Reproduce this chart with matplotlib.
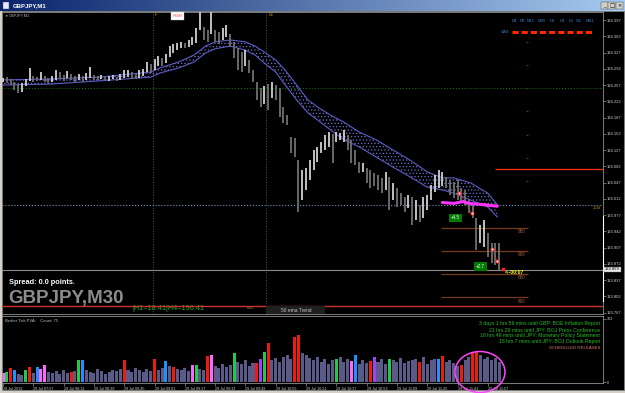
import numpy as np
import matplotlib
matplotlib.use('Agg')
import matplotlib.pyplot as plt
from matplotlib import font_manager
from matplotlib.patches import Rectangle, Ellipse
from matplotlib.lines import Line2D
from matplotlib.colors import LinearSegmentedColormap

installed = {f.name for f in font_manager.fontManager.ttflist}
if 'Liberation Sans Narrow' in installed:
    NARROW, k = 'Liberation Sans Narrow', 1.0
else:
    NARROW, k = 'Liberation Sans', 0.82
plt.rcParams['font.family'] = [NARROW, 'DejaVu Sans']
plt.rcParams['hatch.linewidth'] = 0.5

# ---- data (minutes after 07:41 on 29 Jul 2019) ----
bar_min = list(range(0, 264, 2))
bar_high = [134.272, 134.274, 134.270, 134.264, 134.259, 134.261, 134.270, 134.294, 134.276, 134.274,
            134.285, 134.276, 134.272, 134.276, 134.289, 134.285, 134.279, 134.287, 134.281, 134.276,
            134.281, 134.276, 134.283, 134.296, 134.279, 134.276, 134.279, 134.274, 134.276, 134.279,
            134.274, 134.281, 134.289, 134.289, 134.285, 134.281, 134.289, 134.292, 134.307, 134.302,
            134.313, 134.319, 134.315, 134.324, 134.341, 134.345, 134.348, 134.350, 134.348, 134.354,
            134.360, 134.380, 134.419, 134.382, 134.375, 134.414, 134.375, 134.371, 134.380, 134.386,
            134.367, 134.350, 134.337, 134.328, 134.332, 134.311, 134.289, 134.264, 134.251, 134.255,
            134.259, 134.264, 134.257, 134.251, 134.210, 134.192, 134.145, 134.143, 134.095, 134.074,
            134.078, 134.095, 134.117, 134.124, 134.134, 134.149, 134.156, 134.151, 134.156, 134.154,
            134.160, 134.149, 134.139, 134.117, 134.091, 134.089, 134.078, 134.074, 134.067, 134.063,
            134.057, 134.070, 134.059, 134.046, 134.035, 134.024, 134.016, 134.020, 134.016, 134.009,
            133.999, 134.016, 134.020, 134.042, 134.063, 134.074, 134.070, 134.059, 134.052, 134.048,
            134.052, 134.035, 134.031, 134.009, 133.999, 133.971, 133.956, 133.966, 133.938, 133.917,
            133.917, 133.917]
bar_low = [134.264, 134.261, 134.257, 134.246, 134.240, 134.242, 134.255, 134.266, 134.264, 134.266,
           134.268, 134.264, 134.261, 134.264, 134.268, 134.270, 134.266, 134.272, 134.268, 134.264,
           134.268, 134.264, 134.268, 134.272, 134.268, 134.268, 134.270, 134.268, 134.266, 134.270,
           134.266, 134.268, 134.272, 134.274, 134.270, 134.270, 134.272, 134.276, 134.285, 134.283,
           134.289, 134.298, 134.298, 134.304, 134.317, 134.326, 134.332, 134.337, 134.337, 134.339,
           134.343, 134.348, 134.375, 134.354, 134.350, 134.367, 134.350, 134.345, 134.354, 134.360,
           134.339, 134.315, 134.289, 134.285, 134.298, 134.283, 134.264, 134.225, 134.210, 134.216,
           134.203, 134.229, 134.225, 134.188, 134.175, 134.171, 134.111, 134.102, 133.984, 134.009,
           134.031, 134.052, 134.074, 134.091, 134.111, 134.117, 134.124, 134.089, 134.134, 134.139,
           134.134, 134.117, 134.089, 134.085, 134.067, 134.070, 134.046, 134.035, 134.040, 134.031,
           134.024, 134.031, 133.988, 134.009, 133.994, 133.999, 133.984, 133.992, 133.956, 133.966,
           133.962, 133.971, 133.988, 134.009, 134.027, 134.035, 134.040, 134.035, 134.020, 134.014,
           134.009, 134.003, 133.999, 133.981, 133.971, 133.902, 133.917, 133.908, 133.887, 133.874,
           133.869, 133.859]

ema_min = [0, 25, 51, 78, 83, 93, 101, 107, 112, 120, 128, 133, 138, 144, 149,
           155, 161, 166, 173, 180, 188, 197, 206, 215, 224, 232, 238, 247, 256, 261]
ema_upper = [134.268, 134.270, 134.274, 134.285, 134.294, 134.307, 134.322, 134.341, 134.350, 134.354,
             134.350, 134.341, 134.328, 134.311, 134.289, 134.257, 134.225, 134.210, 134.192, 134.177,
             134.156, 134.139, 134.117, 134.095, 134.070, 134.057, 134.057, 134.046, 134.024, 133.999]
ema_lower = [134.257, 134.259, 134.266, 134.274, 134.283, 134.294, 134.307, 134.326, 134.335, 134.341,
             134.332, 134.322, 134.304, 134.285, 134.257, 134.225, 134.197, 134.182, 134.160, 134.139,
             134.124, 134.102, 134.080, 134.059, 134.037, 134.031, 134.024, 134.009, 133.994, 133.973]

vol = [45, 50, 70, 60, 40, 35, 60, 75, 45, 75,
       65, 85, 50, 45, 55, 40, 60, 45, 50, 55,
       110, 110, 60, 50, 45, 65, 55, 40, 50, 60,
       55, 65, 110, 60, 50, 70, 60, 50, 65, 55,
       115, 60, 70, 105, 80, 75, 65, 60, 70, 55,
       85, 85, 65, 60, 135, 140, 80, 70, 90, 75,
       85, 150, 100, 90, 110, 80, 95, 95, 120, 155,
       200, 110, 125, 100, 130, 140, 120, 230, 240, 150,
       140, 125, 110, 130, 100, 120, 90, 110, 115, 130,
       100, 120, 105, 140, 90, 110, 95, 105, 130, 100,
       120, 90, 115, 110, 100, 125, 95, 105, 110, 120,
       100, 130, 90, 110, 120, 115, 135, 100, 110, 95,
       80, 85, 110, 130, 155, 160, 140, 120, 130, 110, 125, 100]
vol_kind = list("mGrbnnGrnb" "mmnnnnnnrn" "Gbnnnnnnnn" "nnrnnnnnnn" "rnnbnrnnnn"
                "mGnnrmnnnn" "nGnnnnnrpG" "rnnnnnnrrn" "nnnnnnnnGn" "nnmbnnnrpn"
                "nnGnnnnnnn" "rnnnnbrnnn" "nrnnrrnnnnnn")

price_ticks = [134.397, 134.362, 134.327, 134.292, 134.257, 134.222, 134.187, 134.152, 134.117, 134.082,
               134.047, 134.012, 133.977, 133.942, 133.907, 133.872, 133.837, 133.802, 133.767]
date_min = [0, 16, 32, 48, 64, 80, 96, 112, 128, 144, 160, 176, 192, 208, 224, 240, 256]
date_labels = ['29 Jul 2019', '29 Jul 07:57', '29 Jul 08:13', '29 Jul 08:29', '29 Jul 08:45',
               '29 Jul 09:01', '29 Jul 09:17', '29 Jul 09:33', '29 Jul 09:49', '29 Jul 10:05',
               '29 Jul 10:21', '29 Jul 10:37', '29 Jul 10:53', '29 Jul 11:09', '29 Jul 11:25',
               '29 Jul 11:41', '29 Jul 11:57']

levels = [133.950, 133.900, 133.850, 133.800]
level_labels = ['950', '900', '850', '800']
small_levels = [134.350, 134.300, 134.250, 134.200, 134.150, 134.100, 134.050]
trade_min = [241, 247.6, 258.2, 260.8]
trade_price = [134.024, 133.981, 133.904, 133.878]
last_price = 133.859

news = ['3 days 1 hrs 59 mins until GBP: BOE Inflation Report',
        '21 hrs 29 mins until JPY: BOJ Press Conference',
        '18 hrs 49 mins until JPY: Monetary Policy Statement',
        '18 hrs 7 mins until JPY: BOJ Outlook Report']
timeframes = ['M1', 'M5', 'M15', 'M30', 'H1', 'H4', 'D1', 'W1', 'MN1']

# ---- layout helpers (pixel positions) ----
W, H = 625, 393
def fx(px): return px / W
def fy(py): return 1 - py / H
XL = (-0.53, 316.8)

fig = plt.figure(figsize=(6.25, 3.93), dpi=100, facecolor='#d4d0c8')
fig.patches.append(Rectangle((fx(2), fy(390)), fx(622), 379 / H, transform=fig.transFigure,
                             facecolor='black', edgecolor='#808080', lw=0.6, zorder=-1))

# title bar
tb = fig.add_axes([0, fy(11), 1, 11 / H])
cm = LinearSegmentedColormap.from_list('tb', ['#0a246a', '#a6caf0'])
tb.imshow(np.linspace(0, 1, 256)[None, :], aspect='auto', cmap=cm, extent=[0, W, 11, 0])
tb.set_xlim(0, W); tb.set_ylim(11, 0); tb.axis('off')
tb.text(13, 5.6, 'GBPJPY,M1', color='white', fontsize=4.3, fontweight='bold', va='center',
        family=['Liberation Sans', 'DejaVu Sans'])
tb.add_patch(Rectangle((3, 2), 6, 7, facecolor='#e8e8f8', edgecolor='#404080', lw=0.3))
for bx, sym in zip([600.5, 608, 616], ['_', '□', '×']):
    tb.add_patch(Rectangle((bx, 2), 7, 7, facecolor='#d4d0c8', edgecolor='#404040', lw=0.3))
    tb.text(bx + 3.5, 5.5, sym, fontsize=3.5, ha='center', va='center', color='black',
            family=['DejaVu Sans'])

# main price panel
ax = fig.add_axes([fx(2), fy(314), 601 / W, 302 / H])
ax.set_facecolor('black')
ax.set_xlim(*XL)
ax.set_ylim(133.7638, 134.4143)
for s in ax.spines.values():
    s.set_color('#909090'); s.set_linewidth(0.6)
ax.set_xticks([])
ax.yaxis.tick_right()
ax.set_yticks(price_ticks)
ax.set_yticklabels([f'{p:.3f}' for p in price_ticks])
ax.tick_params(axis='y', colors='#909090', labelcolor='#d0d0d0', labelsize=3.6 * k,
               length=2, width=0.5, pad=1)

# session lines and horizontal levels
for m in [79, 139]:
    ax.axvline(m, color='#555555', ls=':', lw=0.7, zorder=1)
ax.axhline(134.251, color='#0b6b0b', ls=':', lw=0.8, zorder=1)
ax.axhline(133.999, color='#7090b8', ls=':', lw=0.8, zorder=1)
ax.axhline(last_price, color='#8a8a8a', lw=0.8, zorder=1)
ax.axhline(133.781, color='#c83232', lw=1.0, zorder=6)
ax.hlines(134.076, 260, XL[1], color='#ff3010', lw=0.9, zorder=1)
ax.hlines(levels, 231, 277, color='#7a3a1c', lw=0.9, zorder=1)
for lv, lb in zip(levels, level_labels):
    ax.text(276, lv - 0.003, lb, color='#9a5a3c', fontsize=4 * k, ha='right', va='top', zorder=4)
ax.plot([276.5] * len(small_levels), small_levels, ls='none', marker='_', ms=2,
        mew=0.8, color='#7a2a10', zorder=1)

# EMA ribbon
ax.fill_between(ema_min, ema_lower, ema_upper, facecolor='none', edgecolor='#6e6ed0',
                hatch='.....', lw=0, zorder=2)
ax.plot(ema_min, ema_upper, color='#5c5cc4', lw=0.8, zorder=2)
ax.plot(ema_min, ema_lower, color='#5c5cc4', lw=0.8, zorder=2)

# price bars
mid = (np.array(bar_high) + np.array(bar_low)) / 2
up = np.r_[True, mid[1:] >= mid[:-1]]
ax.vlines(bar_min, bar_low, bar_high, colors=np.where(up, '#d0d0d0', '#707070'), lw=1.3, zorder=3)

# trade marks
ax.plot([232, 238, 243, 246, 252, 261], [134.004, 134.002, 134.006, 134.002, 134.000, 133.996],
        color='#ff33ff', lw=2.2, solid_capstyle='round', zorder=5)
ax.plot(trade_min[:2], trade_price[:2], color='#ff3030', ls=':', lw=0.7, zorder=4)
ax.plot(trade_min[2:], trade_price[2:], color='#ff3030', ls=':', lw=0.7, zorder=4)
ax.scatter(trade_min, trade_price, s=5, facecolor='#ffd0d0', edgecolor='#ff2020', lw=0.6, zorder=5)
ax.scatter([264], [last_price + 0.002], s=4, marker='s', color='#ff2020', zorder=5)
ax.text(238.9, 133.971, '+4.5', color='white', fontsize=4 * k, ha='center', va='center', zorder=6,
        bbox=dict(facecolor='#007a00', edgecolor='none', pad=1.2))
ax.text(252.1, 133.866, '+2.7', color='white', fontsize=4 * k, ha='center', va='center', zorder=6,
        bbox=dict(facecolor='#007a00', edgecolor='none', pad=1.2))
ax.text(265, 133.854, '<--00:07', color='#ffff00', fontsize=4.4 * k, fontweight='bold',
        ha='left', va='center', zorder=6)


def ptext(px, py, s, **kw):
    ax.text(fx(px), fy(py), s, transform=fig.transFigure, **kw)


ptext(4, 15.5, '▼', color='#c0c0c0', fontsize=2.5, va='center')
ptext(9, 15.5, 'GBPJPY,M1', color='#b0b0b0', fontsize=3.4 * k, va='center')
ptext(155, 15, 'F', color='#d08a00', fontsize=4 * k, va='center')
ptext(269, 15, 'Lx', color='#d08a00', fontsize=4 * k, va='center')
ptext(177.5, 16, 'HIGH', color='#ff2020', fontsize=3.4 * k, ha='center', va='center',
      bbox=dict(facecolor='white', edgecolor='#c0c0c0', pad=1.3, lw=0.3))
for tf, px in zip(timeframes, [514, 522, 531, 542, 552, 562, 571, 579, 590]):
    ptext(px, 21, tf, color='#3a7ac8', fontsize=3.5 * k, ha='center', va='center')
ptext(505, 32, 'CAN', color='#3a7ac8', fontsize=3.5 * k, ha='center', va='center')
ax.add_line(Line2D([fx(512), fx(594)], [fy(32), fy(32)], transform=fig.transFigure,
                   color='#ff2a00', lw=2.2, ls=(0, (2, 1)), zorder=6))
ptext(597, 208, '1:34', color='#d09000', fontsize=3.6 * k, ha='center', va='center')
ptext(9, 282, 'Spread: 0.0 points.', color='white', fontsize=6.5 * k, fontweight='bold', va='center')
ptext(8, 299, 'GBPJPY,M30', color='#8c8c8c', fontsize=16.5 * k, fontweight='bold', va='center', zorder=5)
ptext(132, 308, '|H1=18.41|H4=196.41', color='#20b020', fontsize=5.2, va='center',
      family=['Liberation Sans', 'DejaVu Sans'])
ptext(250, 308, 'KDL', color='#b08000', fontsize=3.4 * k, ha='center', va='center')
ax.add_patch(Rectangle((fx(266), fy(314)), 59 / W, 8 / H, transform=fig.transFigure,
                       facecolor='#202020', edgecolor='none', zorder=6))
ptext(296, 310, '50 ema Trend', color='#c8c8c8', fontsize=4.3 * k, ha='center', va='center', zorder=7)

# indicator panel
vax = fig.add_axes([fx(2), fy(383), 601 / W, 67 / H])
vax.set_facecolor('black')
vax.set_xlim(*XL)
vax.set_ylim(-5.1, 337.3)
for s in vax.spines.values():
    s.set_color('#909090'); s.set_linewidth(0.6)
kind_colors = {'n': '#5a5a88', 'r': '#ee1c10', 'G': '#22c94a', 'b': '#1e90ff',
               'm': '#ff66ff', 'p': '#a040ff'}
vax.bar(bar_min, vol, width=1.6, color=[kind_colors[c] for c in vol_kind], zorder=2)
vax.yaxis.tick_right()
vax.set_yticks([0, 322])
vax.set_yticklabels(['0', '322'])
vax.set_xticks(date_min)
vax.set_xticklabels(date_labels, ha='left')
vax.tick_params(colors='#909090', labelcolor='#d0d0d0', labelsize=3.3 * k, length=2, width=0.5, pad=1)

fig.text(fx(5), fy(321), 'Broker Tick PVA:    Count: 75', color='#c0c0c0', fontsize=3.6 * k, va='center')
for i, line in enumerate(news):
    fig.text(fx(600), fy(324 + 6 * i), line, color='#22c022', fontsize=4.5 * k, ha='right', va='center')
fig.text(fx(600), fy(348), 'SCHEDULED RELEASES', color='#e07878', fontsize=3.8 * k, ha='right', va='center')

# right axis extras
fig.lines.append(Line2D([fx(603.3)] * 2, [fy(216), fy(301)], transform=fig.transFigure,
                        color='white', lw=0.8))
fig.text(fx(605), fy(269.5), f'{last_price:.3f}', color='black', fontsize=3.6 * k, va='center',
         bbox=dict(facecolor='#e8e8e8', edgecolor='#808080', pad=0.6, lw=0.3))

fig.patches.append(Ellipse((fx(480), fy(372)), 50 / W, 41 / H, transform=fig.transFigure,
                           fill=False, edgecolor='#ff44ff', lw=1.1, zorder=10))

fig.savefig('out.png', dpi=100, facecolor=fig.get_facecolor())
